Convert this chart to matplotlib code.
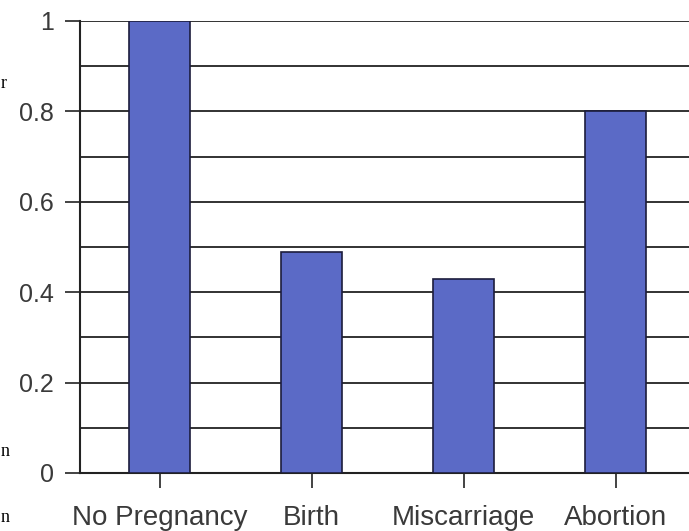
import matplotlib
matplotlib.use('Agg')
import matplotlib.pyplot as plt
import numpy as np

categories = ['No Pregnancy', 'Birth', 'Miscarriage', 'Abortion']
values = [1.0, 0.49, 0.43, 0.80]
ytick_vals = [0, 0.2, 0.4, 0.6, 0.8, 1.0]
ytick_labels = ['0', '0.2', '0.4', '0.6', '0.8', '1']

plt.rcParams['font.family'] = ['Liberation Sans', 'DejaVu Sans']

fig = plt.figure(figsize=(6.89, 5.31), dpi=100)
ax = fig.add_axes([80/689, 58/531, 609/689, 452/531])

x = np.arange(len(categories))
ax.bar(x, values, width=0.4, color='#5b6ac6', edgecolor='#1c1c3c', linewidth=1.2, zorder=3)

# grid every 0.1
for g in np.arange(0.1, 1.01, 0.1):
    ax.axhline(g, color='#222222', linewidth=1.3, zorder=1)

ax.set_xlim(-0.523, 3.483)
ax.set_ylim(0, 1)
ax.set_xticks(x)
ax.set_xticklabels(categories)
ax.set_yticks(ytick_vals)
ax.set_yticklabels(ytick_labels)

for s in ['top', 'right']:
    ax.spines[s].set_visible(False)
ax.spines['left'].set_linewidth(1.5)
ax.spines['bottom'].set_linewidth(1.5)
ax.spines['left'].set_color('#222222')
ax.spines['bottom'].set_color('#222222')

ax.tick_params(axis='y', length=11, width=1.2, pad=8, labelsize=18, colors='#222222', labelcolor='#3a3a3a')
ax.tick_params(axis='x', length=11, width=1.2, pad=12, labelsize=20, colors='#222222', labelcolor='#3a3a3a')

# bits of the page text around the chart, at the left edge
fig.text(1/689, 1 - 84/531, 'r', family='Liberation Serif', fontsize=13, va='center', ha='left')
fig.text(1/689, 1 - 452/531, 'n', family='Liberation Serif', fontsize=13, va='center', ha='left')
fig.text(1/689, 1 - 518/531, 'n', family='Liberation Serif', fontsize=13, va='center', ha='left')

fig.savefig('out.png', dpi=100)
